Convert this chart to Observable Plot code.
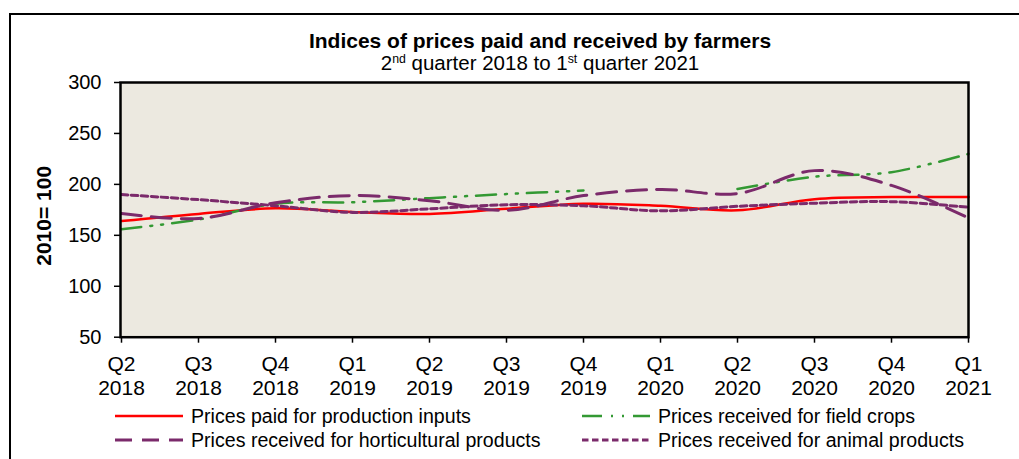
<!DOCTYPE html>
<html>
<head>
<meta charset="utf-8">
<script src="https://cdn.jsdelivr.net/npm/d3@7"></script>
<script src="https://cdn.jsdelivr.net/npm/@observablehq/plot@0.6"></script>
<style>
  html, body { margin: 0; padding: 0; background: #fff; overflow: hidden; }
  #page { position: relative; width: 1019px; height: 459px; font-family: "Liberation Sans", Arial, sans-serif; color: #000; }
  #border { position: absolute; left: 9px; top: 13px; width: 1100px; height: 500px; border: 2px solid #000; box-sizing: border-box; }
  #chart { position: absolute; left: 0; top: 0; }
  .title { position: absolute; left: 0; width: 1080px; text-align: center; white-space: nowrap; line-height: 1.15; }
  #t1 { top: 29px; font-weight: bold; font-size: 21px; }
  #t2 { top: 51px; font-size: 20.5px; }
  sup { font-size: 0.6em; vertical-align: 0.55em; line-height: 0; }
  .leg { position: absolute; display: flex; align-items: center; font-size: 19.6px; white-space: nowrap; height: 22px; }
  .leg svg { margin-right: 8px; }
</style>
</head>
<body>
<div id="page">
  <div id="border"></div>
  <div id="chart"></div>
  <div class="title" id="t1">Indices of prices paid and received by farmers</div>
  <div class="title" id="t2">2<sup>nd</sup> quarter 2018 to 1<sup>st</sup> quarter 2021</div>
  <div id="legend"></div>
</div>
<script>
const quarters = ["Q2","Q3","Q4","Q1","Q2","Q3","Q4","Q1","Q2","Q3","Q4","Q1"];
const years = ["2018","2018","2018","2019","2019","2019","2019","2020","2020","2020","2020","2021"];
const yTicks = [50, 100, 150, 200, 250, 300];

const paidInputs    = [164, 171, 176.5, 173, 171, 176, 181, 179, 174.5, 185.5, 187.5, 187.5];
const fieldCrops    = [156, 165.5, 181, 182.5, 186.5, 190.5, 194, null, 195.5, 207.5, 212, 230];
const horticultural = [171.5, 166.5, 182, 189, 184, 174.5, 189, 195, 191, 213.5, 199, 167];
const animal        = [190, 185, 179, 172.5, 176, 180, 179, 174, 178.5, 181.5, 183, 177.5];

const seriesNames = [
  "Prices paid for production inputs",
  "Prices received for field crops",
  "Prices received for horticultural products",
  "Prices received for animal products"
];
const yLabel = "2010= 100";

const periods = quarters.map((q, i) => q + " " + years[i]);
const seriesValues = [paidInputs, fieldCrops, horticultural, animal];
const styles = [
  {stroke: "#FF0000", strokeWidth: 2.5, dash: null},
  {stroke: "#339933", strokeWidth: 2.5, dash: "20,9,2,9,2,9"},
  {stroke: "#7B2A6B", strokeWidth: 3, dash: "20,10"},
  {stroke: "#7B2A6B", strokeWidth: 3, dash: "6.5,3.5"}
];

const rows = periods.map((p, i) => ({p, i}));
const lineMarks = seriesValues.map((vals, s) =>
  Plot.line(rows, {
    x: d => d.p,
    y: d => vals[d.i],
    stroke: styles[s].stroke,
    strokeWidth: styles[s].strokeWidth,
    strokeDasharray: styles[s].dash,
    curve: "catmull-rom"
  })
);

const chart = Plot.plot({
  width: 1019,
  height: 400,
  marginLeft: 120,
  marginRight: 51,
  marginTop: 82,
  marginBottom: 63.3,
  style: {fontFamily: "'Liberation Sans', Arial, sans-serif", fontSize: "20px", background: "transparent", color: "#000"},
  x: {type: "point", domain: periods, padding: 0},
  y: {domain: [50, 300]},
  marks: [
    Plot.frame({fill: "#ECE9E0", stroke: null}),
    ...lineMarks,
    Plot.frame({stroke: "#000", strokeWidth: 2.5}),
    Plot.axisY({ticks: yTicks, tickSize: 6, tickPadding: 13, label: null, fontSize: 20, strokeWidth: 1.5}),
    Plot.axisX({tickFormat: d => d.split(" ")[0], tickSize: 6, tickPadding: 13, label: null, fontSize: 21, strokeWidth: 1.5}),
    Plot.axisX({tickFormat: d => d.split(" ")[1], tickSize: 0, tickPadding: 43, label: null, fontSize: 21}),
    Plot.text([yLabel], {frameAnchor: "left", textAnchor: "middle", rotate: -90, dx: -76, dy: 6, fontWeight: "bold", fontSize: 21, text: d => d})
  ]
});
document.getElementById("chart").appendChild(chart);

// legend
const legPos = [
  {x: 115, y: 405}, {x: 582, y: 405},
  {x: 115, y: 429}, {x: 582, y: 429}
];
const leg = document.getElementById("legend");
[0, 1, 2, 3].forEach((s, k) => {
  const div = document.createElement("div");
  div.className = "leg";
  div.style.left = legPos[k].x + "px";
  div.style.top = legPos[k].y + "px";
  const st = styles[s];
  const dashAttr = st.dash ? `stroke-dasharray="${s === 2 ? "17,10" : st.dash}"` : "";
  div.innerHTML = `<svg width="68" height="10"><line x1="0" x2="68" y1="5" y2="5" stroke="${st.stroke}" stroke-width="${st.strokeWidth}" ${dashAttr}/></svg><span>${seriesNames[s]}</span>`;
  leg.appendChild(div);
});
</script>
</body>
</html>
